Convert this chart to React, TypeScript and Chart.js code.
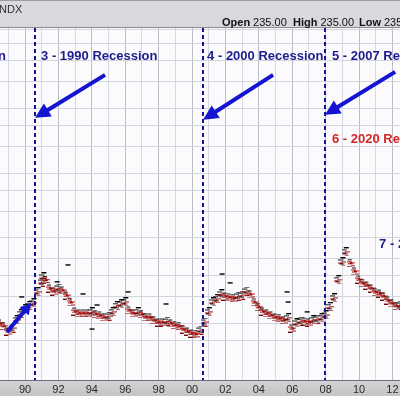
import React, { useEffect, useRef } from 'react';
import { Chart, registerables } from 'chart.js';
Chart.register(...registerables);

const dates = [
  1988.5, 1988.75, 1989.0, 1989.25, 1989.5, 1989.75, 1990.0, 1990.25, 1990.5, 1990.75,
  1991.0, 1991.1, 1991.25, 1991.5, 1991.75, 1992.0, 1992.25, 1992.5, 1992.75, 1993.0,
  1993.25, 1993.5, 1993.75, 1994.0, 1994.25, 1994.5, 1994.75, 1995.0, 1995.25, 1995.5,
  1995.75, 1996.0, 1996.25, 1996.5, 1996.75, 1997.0, 1997.25, 1997.5, 1997.75, 1998.0,
  1998.25, 1998.5, 1998.75, 1999.0, 1999.25, 1999.5, 1999.75, 2000.0, 2000.25, 2000.5,
  2000.75, 2001.0, 2001.25, 2001.5, 2001.75, 2002.0, 2002.25, 2002.5, 2002.75, 2003.0,
  2003.25, 2003.5, 2003.75, 2004.0, 2004.25, 2004.5, 2004.75, 2005.0, 2005.25, 2005.5,
  2005.75, 2006.0, 2006.25, 2006.5, 2006.75, 2007.0, 2007.25, 2007.5, 2007.75, 2008.0,
  2008.25, 2008.5, 2008.75, 2009.0, 2009.2, 2009.5, 2009.75, 2010.0, 2010.25, 2010.5,
  2010.75, 2011.0, 2011.25, 2011.5, 2011.75, 2012.0, 2012.25, 2012.45,
];
const claims = [
  302, 293, 277, 286, 312, 333, 351, 363, 374, 421,
  468, 494, 480, 439, 425, 439, 430, 407, 378, 343,
  336, 336, 336, 340, 333, 329, 322, 325, 340, 363,
  370, 378, 347, 336, 340, 333, 322, 322, 312, 305,
  305, 308, 302, 296, 293, 283, 277, 271, 269, 280,
  305, 340, 378, 391, 412, 403, 399, 395, 403, 407,
  425, 412, 378, 359, 343, 336, 329, 322, 319, 312,
  319, 286, 302, 308, 308, 305, 312, 315, 319, 329,
  359, 395, 479, 580, 646, 575, 527, 483, 464, 453,
  439, 421, 416, 403, 386, 374, 363, 366,
];
// Isolated black ticks above/below the band
const spikeDates = [1989.8, 1991.92, 1992.57, 1993.47, 1994.01, 1994.31, 1996.17, 1998.44, 2001.8, 2002.28, 2005.69, 2005.75, 2006.89];
const spikeClaims = [399, 469, 562, 412, 283, 366, 421, 370, 510, 464, 421, 378, 340];

const yearTicks = [1989, 1990, 1991, 1992, 1993, 1994, 1995, 1996, 1997, 1998, 1999, 2000, 2001, 2002, 2003, 2004, 2005, 2006, 2007, 2008, 2009, 2010, 2011, 2012];
const gridValues = [250, 300, 400, 500, 600, 750, 1000, 1250, 1500, 2000, 2500, 3000, 4000, 5000, 6000, 7000];

const recessionYears = [1990.6, 2000.66, 2007.96];
const noteTexts = ['2 - 1981 Recession', '3 - 1990 Recession', '4 - 2000 Recession', '5 - 2007 Recession', '6 - 2020 Recession', '7 - 2022'];
const noteYears = [1988.86, 1990.96, 2000.9, 2008.38, 2008.38, 2011.2];
const noteValues = [5216, 5216, 5216, 5216, 2144, 697];
const noteColors = ['#1c1c8e', '#1c1c8e', '#1c1c8e', '#1c1c8e', '#d42424', '#1c1c8e'];
const noteAlign = ['right', 'left', 'left', 'left', 'left', 'left'];
const arrowFrom = [[1994.79, 4300], [2004.85, 4300], [2012.16, 4441], [1988.92, 274]];
const arrowTo = [[1990.6, 2714], [2000.66, 2657], [2007.96, 2803], [1990.36, 374]];

const headerLabels = ['Open', 'High', 'Low'];
const headerValues = ['235.00', '235.00', '235.00'];
const headerX = [222, 293, 359];

const X_MIN = 1988.5;
const X_MAX = 2012.45;

function makeGlyph(rows: [number, number, number, string][]) {
  const c = document.createElement('canvas');
  c.width = 8;
  c.height = 9;
  const g = c.getContext('2d')!;
  for (const [y, x0, x1, col] of rows) {
    g.fillStyle = col;
    g.fillRect(x0, y, x1 - x0 + 1, 1);
  }
  return c;
}

const decor = {
  id: 'decor',
  beforeDraw(chart: any) {
    const { ctx, chartArea: a, width, height } = chart;
    ctx.save();
    ctx.fillStyle = '#ffffff';
    ctx.fillRect(0, 0, width, height);
    ctx.fillStyle = '#d9d9dd';
    ctx.fillRect(0, 0, width, a.top);
    ctx.fillStyle = '#9a9aa0';
    ctx.fillRect(0, 0, width, 1);
    ctx.fillStyle = '#8a8a90';
    ctx.fillRect(0, a.top - 1, width, 1);
    ctx.fillStyle = '#fbfbfe';
    ctx.fillRect(a.left, a.top, a.right - a.left, a.bottom - a.top);
    const g = ctx.createLinearGradient(0, a.bottom, 0, height);
    g.addColorStop(0, '#d4d4d6');
    g.addColorStop(1, '#c4c4c8');
    ctx.fillStyle = g;
    ctx.fillRect(0, a.bottom, width, height - a.bottom);
    ctx.fillStyle = '#6e6e74';
    ctx.fillRect(0, a.bottom, width, 1);
    ctx.fillStyle = '#333';
    ctx.textBaseline = 'middle';
    ctx.font = '11px "Liberation Sans", Arial, sans-serif';
    ctx.fillText('NDX', -1, 10);
    ctx.fillStyle = '#111';
    for (let i = 0; i < headerLabels.length; i++) {
      ctx.font = 'bold 11px "Liberation Sans", Arial, sans-serif';
      ctx.fillText(headerLabels[i], headerX[i], 23);
      const w = ctx.measureText(headerLabels[i]).width;
      ctx.font = '11px "Liberation Sans", Arial, sans-serif';
      ctx.fillText(headerValues[i], headerX[i] + w + 3, 23);
    }
    ctx.restore();
  },
  afterDatasetsDraw(chart: any) {
    const { ctx, chartArea: a } = chart;
    const xs = chart.scales.x;
    const ys = chart.scales.y;
    ctx.save();
    ctx.strokeStyle = '#12129e';
    ctx.lineWidth = 2;
    ctx.setLineDash([4, 3]);
    for (const r of recessionYears) {
      const px = Math.round(xs.getPixelForValue(r));
      ctx.beginPath();
      ctx.moveTo(px, a.top);
      ctx.lineTo(px, a.bottom);
      ctx.stroke();
    }
    ctx.setLineDash([]);
    for (let i = 0; i < arrowFrom.length; i++) {
      const x1 = xs.getPixelForValue(arrowFrom[i][0]);
      const y1 = ys.getPixelForValue(arrowFrom[i][1]);
      const x2 = xs.getPixelForValue(arrowTo[i][0]);
      const y2 = ys.getPixelForValue(arrowTo[i][1]);
      const ang = Math.atan2(y2 - y1, x2 - x1);
      const hl = i === 3 ? 11 : 15;
      const hw = i === 3 ? 6 : 7.5;
      const bx = x2 - Math.cos(ang) * hl;
      const by = y2 - Math.sin(ang) * hl;
      ctx.strokeStyle = '#1414d2';
      ctx.fillStyle = '#1414d2';
      ctx.lineWidth = 4;
      ctx.beginPath();
      ctx.moveTo(x1, y1);
      ctx.lineTo(bx + Math.cos(ang) * 2, by + Math.sin(ang) * 2);
      ctx.stroke();
      ctx.beginPath();
      ctx.moveTo(x2, y2);
      ctx.lineTo(bx + Math.sin(ang) * hw, by - Math.cos(ang) * hw);
      ctx.lineTo(bx - Math.sin(ang) * hw, by + Math.cos(ang) * hw);
      ctx.closePath();
      ctx.fill();
    }
    ctx.font = 'bold 13px "Liberation Sans", Arial, sans-serif';
    ctx.textBaseline = 'middle';
    for (let i = 0; i < noteTexts.length; i++) {
      ctx.fillStyle = noteColors[i];
      ctx.textAlign = noteAlign[i] as CanvasTextAlign;
      ctx.fillText(noteTexts[i], xs.getPixelForValue(noteYears[i]), ys.getPixelForValue(noteValues[i]));
    }
    ctx.restore();
  },
};

export default function App() {
  const ref = useRef<HTMLCanvasElement>(null);
  useEffect(() => {
    document.body.style.margin = '0';
    const upGlyph = makeGlyph([
      [0, 2, 6, '#000000'],
      [2, 0, 4, '#141414'],
      [4, 3, 7, '#a00c0c'],
      [5, 0, 3, '#b01818'],
      [6, 1, 5, '#1a1a1a'],
      [8, 3, 6, '#a01010'],
    ]);
    const downGlyph = makeGlyph([
      [1, 1, 4, '#111111'],
      [3, 0, 4, '#a00c0c'],
      [4, 3, 7, '#b81a1a'],
      [5, 1, 5, '#900808'],
      [7, 4, 7, '#a81414'],
      [8, 0, 3, '#780606'],
    ]);
    const pts = dates.map((d, i) => ({ x: d, y: claims[i] }));
    const styles = claims.map((v, i) => (i > 0 && v > claims[i - 1] ? upGlyph : downGlyph));
    const chart = new Chart(ref.current!, {
      type: 'scatter',
      data: {
        datasets: [
          {
            data: pts,
            showLine: false,
            pointStyle: styles,
            pointRadius: 4,
          } as any,
          {
            data: spikeDates.map((d, i) => ({ x: d, y: spikeClaims[i] })),
            showLine: false,
            pointStyle: 'line',
            pointRadius: 2.5,
            pointBorderWidth: 1.5,
            pointBorderColor: '#111',
          } as any,
        ],
      },
      options: {
        responsive: false,
        animation: false,
        devicePixelRatio: 1,
        layout: { autoPadding: false, padding: { top: 28, left: 0, right: 0, bottom: 0 } },
        plugins: { legend: { display: false }, tooltip: { enabled: false }, title: { display: false } },
        scales: {
          x: {
            type: 'linear',
            min: X_MIN,
            max: X_MAX,
            afterBuildTicks: (axis: any) => {
              axis.ticks = yearTicks.map((v) => ({ value: v }));
            },
            afterFit: (axis: any) => {
              axis.height = 16;
              axis.paddingLeft = 0;
              axis.paddingRight = 0;
            },
            border: { display: false },
            grid: {
              drawTicks: false,
              color: (c: any) => (c.tick && c.tick.value % 2 === 0 ? '#bcbcc6' : '#d8d8e0'),
              lineWidth: 1,
            },
            ticks: {
              autoSkip: false,
              maxRotation: 0,
              padding: 3,
              color: '#2a2a2a',
              font: { family: '"Liberation Sans", Arial, sans-serif', size: 11 },
              callback: (v: any) => (Number(v) % 2 === 0 ? String(v).slice(2) : ''),
            },
          },
          y: {
            type: 'logarithmic',
            position: 'right',
            min: 164,
            max: 7100,
            afterBuildTicks: (axis: any) => {
              axis.ticks = gridValues.map((v) => ({ value: v }));
            },
            afterFit: (axis: any) => {
              axis.width = 0;
              axis.paddingTop = 0;
              axis.paddingBottom = 0;
            },
            border: { display: false },
            grid: { drawTicks: false, color: '#d4d4dc', lineWidth: 1 },
            ticks: { display: false },
          },
        },
      },
      plugins: [decor],
    } as any);
    return () => chart.destroy();
  }, []);
  return (
    <div style={{ position: 'fixed', left: 0, top: 0, width: 400, height: 396 }}>
      <canvas ref={ref} width={400} height={396} />
    </div>
  );
}
